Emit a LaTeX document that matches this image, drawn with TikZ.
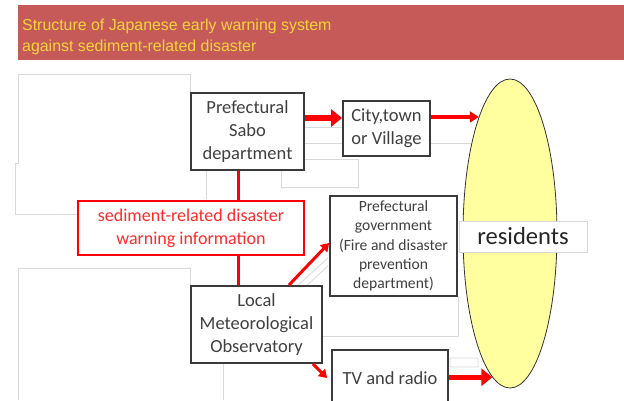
\documentclass[tikz,border=0pt]{standalone}
\usepackage{fontspec}
\usepackage{xcolor}
\usepackage{tikz}
\usetikzlibrary{arrows.meta,shapes.geometric}
\newfontfamily\boxfont{Carlito}
\newfontfamily\titlefont{Liberation Sans}
\definecolor{barred}{HTML}{C55A59}
\definecolor{titleyellow}{HTML}{F7D43A}
\definecolor{boxgray}{HTML}{3A3A3A}
\definecolor{warnred}{HTML}{FF2A2A}
\definecolor{respale}{HTML}{FFFFA0}
\tikzset{
  unitbox/.style  ={draw=boxgray,line width=1.8pt,fill=white,align=center,inner sep=0pt,
                    text=black!75,font={\boxfont\fontsize{18.5}{23}\selectfont}},
  smallbox/.style ={unitbox,font={\boxfont\fontsize{15.6}{19.3}\selectfont}},
  warnbox/.style  ={draw=red,line width=1.3pt,fill=white,text=warnred,align=center,inner sep=0pt,
                    font={\boxfont\fontsize{18}{23}\selectfont}},
  crowd/.style    ={ellipse,draw=black!80,line width=0.8pt,fill=respale,inner sep=0pt},
  mainarrow/.style={red,line width=6pt,-{Triangle[length=11pt,width=17pt]}},
  midarrow/.style ={red,line width=4pt,-{Triangle[length=9pt,width=11pt]}},
  thinarrow/.style={red,line width=3pt,-{Triangle[length=8pt,width=10pt]}},
  redlink/.style  ={red,line width=3pt},
  ghost/.style    ={gray!30,line width=0.8pt},
}
\begin{document}
\begin{tikzpicture}[x=1pt,y=-1pt]
  \useasboundingbox (0,0) rectangle (624,400);
  % title bar
  \fill[barred] (18,5) rectangle (624,60);
  \node[anchor=north west,align=left,inner sep=0pt,text=titleyellow,
        font={\titlefont\fontsize{15.9}{21.5}\selectfont}] (title) at (22,18.5)
        {Structure of Japanese early warning system\\against sediment-related disaster};
  % faint leftover frames
  \draw[ghost] (190,93)--(190,74)--(18,74)--(18,163)--(15,163)--(15,214)--(78,214);
  \draw[ghost] (190,287)--(190,268)--(18,268)--(18,400);
  \draw[ghost] (206,170)--(206,199);
  \draw[ghost] (223,363)--(223,400);
  \draw[ghost] (281,159) rectangle (358,187);
  \foreach \y/\xe in {127/345,143/472}{
     \draw[ghost] (300,\y)--(\xe,\y);
  }
  \draw[ghost] (322,336)--(458,336)--(458,296);
  \draw[ghost] (296,287)--(328,258);
  \draw[ghost] (304,288)--(328,266);
  \draw[ghost,rounded corners=1pt] (450,358) rectangle (478,367);
  % boxes
  \node[unitbox,minimum width=113pt,minimum height=77pt] (sabo) at (247.5,131.5)
        {Prefectural\\Sabo\\department};
  \node[unitbox,minimum width=87pt,minimum height=55pt] (city) at (386.5,128.5)
        {City,town\\or Village};
  \node[warnbox,minimum width=226pt,minimum height=54pt] (warn) at (191,228)
        {sediment-related disaster\\warning information};
  \node[unitbox,minimum width=131pt,minimum height=77pt] (met) at (256.5,324.5)
        {Local\\Meteorological\\Observatory};
  \node[smallbox,minimum width=127pt,minimum height=100pt] (pgov) at (393.5,246)
        {Prefectural\\government\\(Fire and disaster\\prevention\\department)};
  \node[unitbox,minimum width=116pt,minimum height=56pt] (tv) at (390,378)
        {TV and radio};
  \node[crowd,minimum width=94pt,minimum height=309pt] (res) at (510,233.5) {};
  \node[draw=gray!30,line width=0.8pt,fill=white,inner sep=0pt,minimum width=128pt,minimum height=31pt,
        text=black!85,font={\boxfont\fontsize{24.6}{28}\selectfont}] (reslabel) at (523,236.5) {residents};
  % links
  \draw[redlink] ([xshift=-9.5pt]sabo.south) -- ([xshift=-9.5pt]sabo.south |- warn.north);
  \draw[redlink] ([xshift=-9.5pt]sabo.south |- warn.south) -- ([xshift=-9.5pt]sabo.south |- met.north);
  \draw[mainarrow] (sabo.east |- 0,118) -- (city.west |- 0,118);
  \draw[midarrow] (city.east |- res.105) -- (res.105);
  \draw[thinarrow] ([xshift=-34pt]met.north east) -- ([yshift=3pt]pgov.west);
  \draw[thinarrow] ([xshift=-10pt]met.south east) -- ([xshift=-4pt]tv.west);
  \draw[mainarrow,line width=5pt] (tv.east |- res.263) -- (res.263);
\end{tikzpicture}
\end{document}
